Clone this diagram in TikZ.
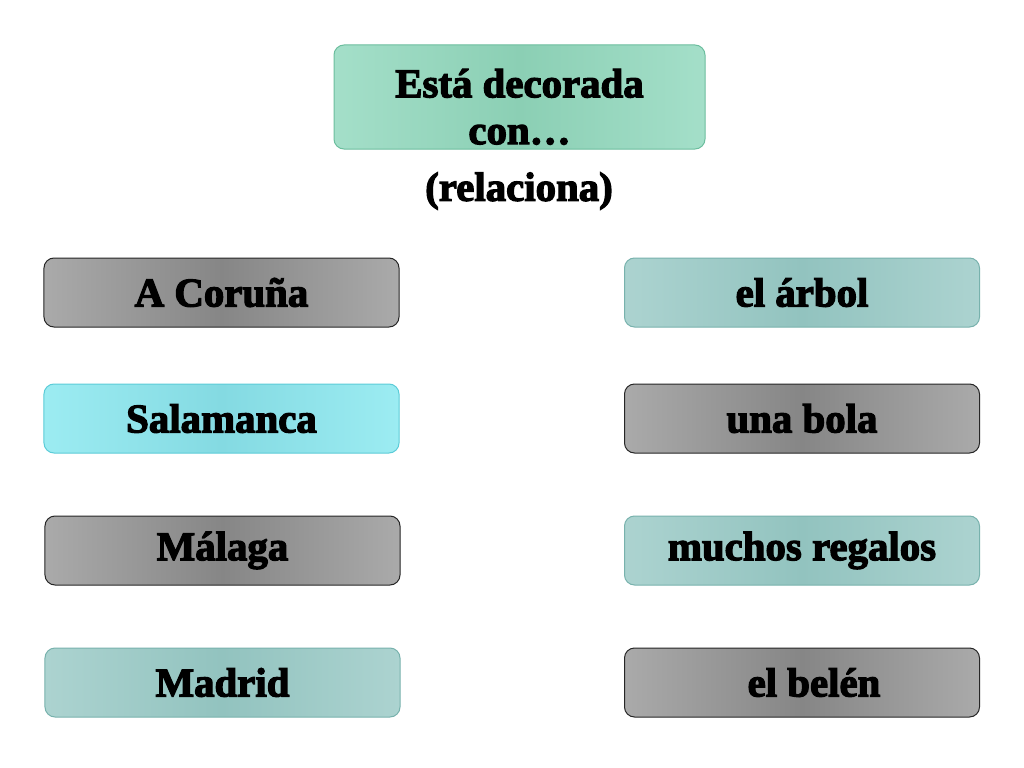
\documentclass[tikz,border=0pt]{standalone}
\usepackage{fontspec}
\newfontfamily\heavy{Liberation Serif}[BoldFeatures={FakeBold=3}]
\begin{document}
\begin{tikzpicture}[x=1bp,y=-1bp,
  txt/.style={font=\heavy\bfseries\fontsize{41}{47}\selectfont},
  box/.style={txt, rounded corners=10bp, minimum width=355bp, minimum height=69bp, line width=1bp, inner sep=0pt},
  graybox/.style={box, draw=black!85, left color=grL, right color=grL, middle color=grM},
  tealbox/.style={box, draw=tealD, left color=tealL, right color=tealL, middle color=tealM},
  cyanbox/.style={box, draw=cyanD, left color=cyanL, right color=cyanL, middle color=cyanM},
  greenbox/.style={box, minimum width=371bp, minimum height=104bp, draw=greenD, left color=greenL, right color=greenL, middle color=greenM, align=center},
]
\definecolor{grL}{HTML}{AAAAAA}
\definecolor{grM}{HTML}{868686}
\definecolor{tealL}{HTML}{ACD3D0}
\definecolor{tealM}{HTML}{92C3BF}
\definecolor{tealD}{HTML}{78B2AD}
\definecolor{cyanL}{HTML}{9CECF2}
\definecolor{cyanM}{HTML}{84DAE2}
\definecolor{cyanD}{HTML}{5CCCD8}
\definecolor{greenL}{HTML}{A4DFC9}
\definecolor{greenM}{HTML}{8BCFB4}
\definecolor{greenD}{HTML}{6CBE9E}
\useasboundingbox (0,0) rectangle (1024,768);
\fill[white] (0,0) rectangle (1024,768);
\node[greenbox] (title) at (519.5,97) {\rule{0pt}{48bp}Está decorada\\con…};
\node[txt, inner sep=0pt] (hint) at (519,191) {(relaciona)};
\node[graybox] (coruna) at (221.5,292.5) {A Coruña};
\node[cyanbox] (salamanca) at (221.5,418.5) {Salamanca};
\node[graybox] (malaga) at (222.5,550.5) {Málaga};
\node[tealbox] (madrid) at (222.5,682.5) {Madrid};
\node[tealbox] (arbol) at (802,292.5) {el árbol};
\node[graybox] (bola) at (802,418.5) {una bola};
\node[tealbox] (regalos) at (802,550.5) {muchos regalos};
\node[graybox] (belen) at (802,682.5) {\hspace{24bp}el belén};
\end{tikzpicture}
\end{document}
